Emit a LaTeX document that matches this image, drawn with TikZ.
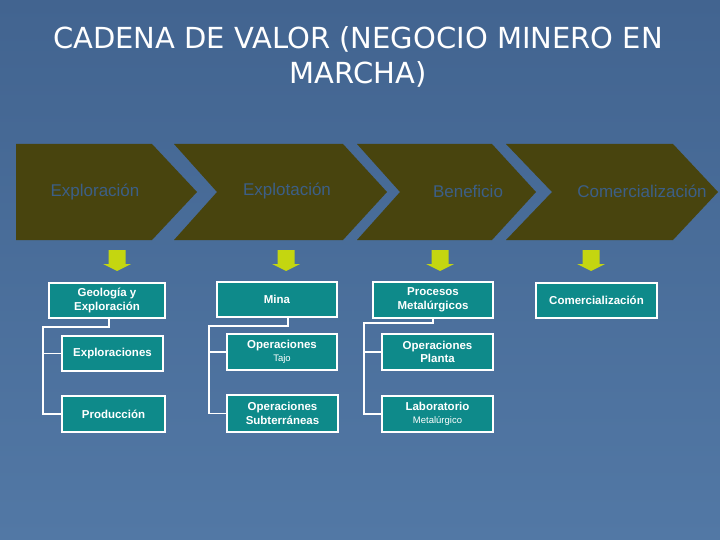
\documentclass[tikz,border=0pt]{standalone}
\usepackage{fontspec}
\setmainfont{Liberation Sans}
\newfontfamily\titlefont{DejaVu Sans}
\definecolor{bgtop}{RGB}{66,100,144}
\definecolor{bgbot}{RGB}{82,120,165}
\definecolor{olive}{RGB}{72,68,14}
\definecolor{chevtext}{RGB}{60,95,135}
\definecolor{boxteal}{RGB}{14,138,138}
\definecolor{arrowyg}{RGB}{196,214,16}
\tikzset{
  chev/.style={fill=olive, draw=none},
  chevlabel/.style={text=chevtext, font=\fontsize{17}{19}\selectfont},
  tealbox/.style={fill=boxteal, draw=white, line width=1.2pt},
  boxlabel/.style={text=white, font=\bfseries\fontsize{11.5}{13.5}\selectfont, align=center},
  link/.style={draw=white, line width=1.2pt},
  ygarrow/.style={fill=arrowyg, draw=none}
}
\newcommand{\smalltxt}[1]{{\mdseries\fontsize{9.5}{12}\selectfont #1}}
\begin{document}
\begin{tikzpicture}[x=1pt,y=-1pt]
\useasboundingbox (0,0) rectangle (720,540);
\shade[top color=bgtop, bottom color=bgbot] (0,0) rectangle (720,540);

% title
\node[text=white, font=\titlefont\fontsize{29}{35}\selectfont, align=center] (title) at (358,57)
  {CADENA DE VALOR (NEGOCIO MINERO EN\\MARCHA)};

% chevrons
\fill[chev] (16,144) -- (152,144) -- (197,192) -- (152,240) -- (16,240) -- cycle;
\fill[chev] (174,144) -- (343,144) -- (387,192) -- (343,240) -- (174,240) -- (217,192) -- cycle;
\fill[chev] (357,144) -- (492,144) -- (536,192) -- (492,240) -- (357,240) -- (400,192) -- cycle;
\fill[chev] (506,144) -- (673,144) -- (718,192) -- (673,240) -- (506,240) -- (552,192) -- cycle;
\node[chevlabel] (c1) at (95,192) {Exploración};
\node[chevlabel] (c2) at (287,191) {Explotación};
\node[chevlabel] (c3) at (468,191) {Beneficio};
\node[chevlabel] (c4) at (642,191) {Comercialización};

% yellow-green down arrows
\foreach \cx in {117,286,440,591}{
  \fill[ygarrow] (\cx-8.5,250) -- (\cx+8.5,250) -- (\cx+8.5,264) -- (\cx+14,264)
     -- (\cx,271) -- (\cx-14,264) -- (\cx-8.5,264) -- cycle;
}

% column 1
\node[tealbox, boxlabel, minimum width=116pt, minimum height=35pt, inner sep=1pt] (g) at (107,300.5) {Geología y\\Exploración};
\node[tealbox, boxlabel, minimum width=101pt, minimum height=35pt] (e) at (112.5,353.5) {Exploraciones};
\node[tealbox, boxlabel, minimum width=103pt, minimum height=36pt] (p) at (113.5,414) {Producción};
\draw[link] (109,318) |- (43,327) |- (e.west);
\draw[link] (43,352) |- (p.west);

% column 2
\node[tealbox, boxlabel, minimum width=120pt, minimum height=35pt] (m) at (277,299.5) {Mina};
\node[tealbox, boxlabel, minimum width=110pt, minimum height=36pt, inner sep=1pt] (ot) at (282,352) {Operaciones\\\smalltxt{Tajo}};
\node[tealbox, boxlabel, minimum width=111pt, minimum height=37pt, inner sep=1pt] (os) at (282.5,413.5) {Operaciones\\Subterráneas};
\draw[link] (288,317) |- (209,326) |- (ot.west);
\draw[link] (209,352) |- (os.west);

% column 3
\node[tealbox, boxlabel, minimum width=120pt, minimum height=36pt, inner sep=1pt] (pm) at (433,300) {Procesos\\Metalúrgicos};
\node[tealbox, boxlabel, minimum width=111pt, minimum height=36pt, inner sep=1pt] (op) at (437.5,352) {Operaciones\\Planta};
\node[tealbox, boxlabel, minimum width=111pt, minimum height=36pt, inner sep=1pt] (lab) at (437.5,414) {Laboratorio\\\smalltxt{Metalúrgico}};
\draw[link] (433,318) |- (364,323) |- (op.west);
\draw[link] (364,352) |- (lab.west);

% column 4
\node[tealbox, boxlabel, minimum width=121pt, minimum height=35pt] (co) at (596.5,300.5) {Comercialización};
\end{tikzpicture}
\end{document}
